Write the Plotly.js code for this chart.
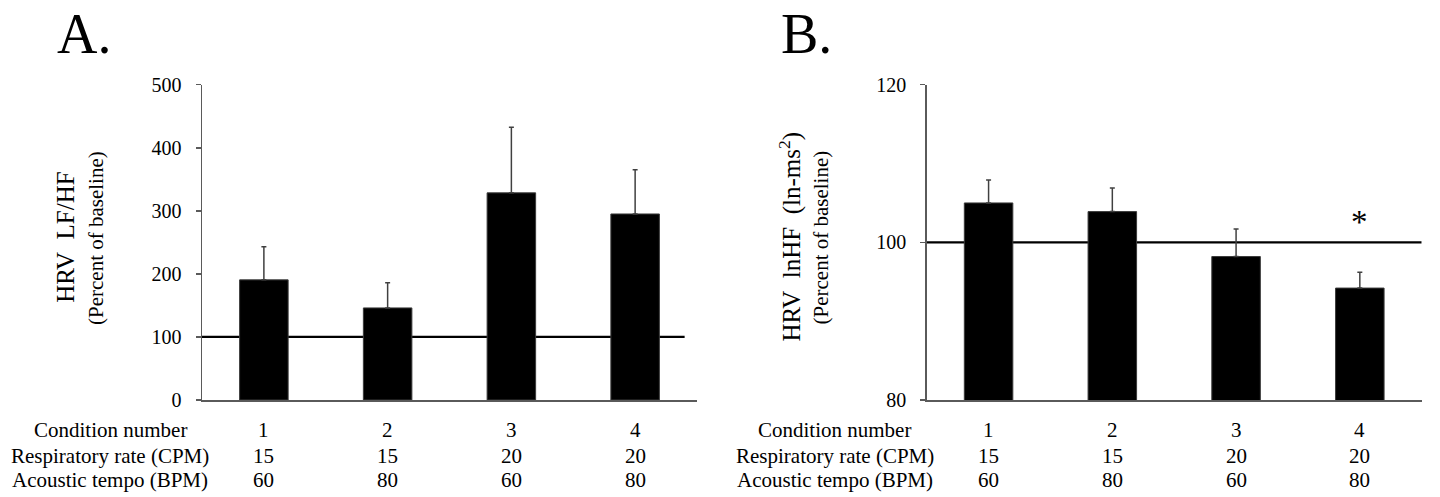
<!DOCTYPE html>
<html>
<head>
<meta charset="utf-8">
<script src="https://cdn.plot.ly/plotly-3.0.1.min.js"></script>
<style>html,body{margin:0;padding:0;background:#fff;}#chart{width:1440px;height:497px;}</style>
</head>
<body>
<div id="chart"></div>
<script>
// ---- data ----
var conditions = ['1', '2', '3', '4'];
var respiratoryRate = ['15', '15', '20', '20'];
var acousticTempo = ['60', '80', '60', '80'];
var rowLabels = ['Condition number', 'Respiratory rate (CPM)', 'Acoustic tempo (BPM)'];

var lfhfMean = [190.5, 146, 328.5, 295];
var lfhfUpper = [243, 186, 432.5, 365];

var lnhfMean = [105.0, 103.9, 98.2, 94.2];
var lnhfUpper = [107.9, 106.9, 101.7, 96.2];

var baselineA = 100;
var baselineB = 100;
var significant = [false, false, false, true];

var panelLabels = ['A.', 'B.'];
var yTitleA = ['HRV\u00a0\u00a0LF/HF', '(Percent of baseline)'];
var yTitleB = ['HRV\u00a0\u00a0lnHF\u00a0\u00a0(ln-ms<sup>2</sup>)', '(Percent of baseline)'];

// ---- helpers ----
var W = 1440, H = 497;
function px(x) { return x / W; }
function py(y) { return 1 - y / H; }
var FONT = 'Liberation Serif, Times New Roman, serif';

function diff(a, b) { return a.map(function (v, i) { return v - b[i]; }); }
var xIdx = conditions.map(function (c, i) { return i; });

var barStyle = {color: '#000', line: {color: '#3a3a3a', width: 1}};
var errStyle = {color: '#404040', thickness: 1.5, width: 2.5};

var traceA = {
  type: 'bar', x: xIdx, y: lfhfMean, xaxis: 'x', yaxis: 'y',
  width: 0.392, marker: barStyle, hoverinfo: 'skip',
  error_y: Object.assign({type: 'data', symmetric: false, array: diff(lfhfUpper, lfhfMean),
    arrayminus: lfhfMean.map(function () { return 0; })}, errStyle)
};
var traceB = {
  type: 'bar', x: xIdx, y: lnhfMean, xaxis: 'x2', yaxis: 'y2',
  width: 0.392, marker: barStyle, hoverinfo: 'skip',
  error_y: Object.assign({type: 'data', symmetric: false, array: diff(lnhfUpper, lnhfMean),
    arrayminus: lnhfMean.map(function () { return 0; })}, errStyle)
};

var xBase = {
  range: [-0.5, 3.5], showgrid: false, zeroline: false, showticklabels: false,
  ticks: '', showline: true, linecolor: '#5a5a5a', linewidth: 1.5, fixedrange: true
};
var yBase = {
  showgrid: false, zeroline: false, showline: true, linecolor: '#5a5a5a', linewidth: 1.5,
  ticks: 'outside', ticklen: 5, tickwidth: 1.5, tickcolor: '#5a5a5a',
  tickfont: {family: FONT, size: 20, color: '#000'}, ticklabelstandoff: 10, fixedrange: true
};

var annotations = [];
// panel letters
annotations.push({xref: 'paper', yref: 'paper', x: px(55), y: py(1), xanchor: 'left', yanchor: 'top',
  text: panelLabels[0], showarrow: false, font: {family: FONT, size: 56, color: '#000'}});
annotations.push({xref: 'paper', yref: 'paper', x: px(779), y: py(1), xanchor: 'left', yanchor: 'top',
  text: panelLabels[1], showarrow: false, font: {family: FONT, size: 56, color: '#000'}});

// y titles
function yTitle(lines, x1, x2) {
  annotations.push({xref: 'paper', yref: 'paper', x: px(x1), y: py(237), xanchor: 'center', yanchor: 'middle',
    textangle: -90, text: lines[0], showarrow: false, font: {family: FONT, size: 25, color: '#000'}});
  annotations.push({xref: 'paper', yref: 'paper', x: px(x2), y: py(238), xanchor: 'center', yanchor: 'middle',
    textangle: -90, text: lines[1], showarrow: false, font: {family: FONT, size: 21, color: '#000'}});
}
yTitle(yTitleA, 64.7, 96);
yTitle(yTitleB, 789.5, 820.5);

// table under each panel
var rowY = [430, 456, 480];
var rows = [conditions, respiratoryRate, acousticTempo];
function table(xref, labelX) {
  rowLabels.forEach(function (lab, r) {
    annotations.push({xref: 'paper', yref: 'paper', x: px(labelX), y: py(rowY[r]), xanchor: 'center', yanchor: 'middle',
      text: lab, showarrow: false, font: {family: FONT, size: 21, color: '#000'}});
    rows[r].forEach(function (v, i) {
      annotations.push({xref: xref, yref: 'paper', x: xIdx[i], y: py(rowY[r]), xanchor: 'center', yanchor: 'middle',
        text: v, showarrow: false, font: {family: FONT, size: 21, color: '#000'}});
    });
  });
}
table('x', 110);
table('x2', 834.7);

// significance marker
significant.forEach(function (s, i) {
  if (s) {
    annotations.push({xref: 'x2', yref: 'y2', x: xIdx[i], y: lnhfUpper[i] + 6.4, xanchor: 'center', yanchor: 'middle',
      text: '*', showarrow: false, font: {family: FONT, size: 33, color: '#000'}});
  }
});

var layout = {
  width: W, height: H,
  margin: {l: 0, r: 0, t: 0, b: 0},
  paper_bgcolor: '#fff', plot_bgcolor: 'rgba(0,0,0,0)',
  showlegend: false, bargap: 0,
  xaxis: Object.assign({}, xBase, {domain: [px(202), px(697)], anchor: 'y'}),
  yaxis: Object.assign({}, yBase, {domain: [py(400), py(84.7)], range: [0, 500], dtick: 100, tick0: 0, anchor: 'x'}),
  xaxis2: Object.assign({}, xBase, {domain: [px(926.7), px(1421.7)], anchor: 'y2'}),
  yaxis2: Object.assign({}, yBase, {domain: [py(400), py(84.7)], range: [80, 120], dtick: 20, tick0: 80, anchor: 'x2'}),
  shapes: [
    {type: 'line', xref: 'x', yref: 'y', x0: -0.5, x1: 3.4, y0: baselineA, y1: baselineA,
      line: {color: '#000', width: 2.3}, layer: 'below'},
    {type: 'line', xref: 'x2', yref: 'y2', x0: -0.5, x1: 3.5, y0: baselineB, y1: baselineB,
      line: {color: '#000', width: 2.3}, layer: 'below'}
  ],
  annotations: annotations
};

Plotly.newPlot('chart', [traceA, traceB], layout, {staticPlot: true, displayModeBar: false});
</script>
</body>
</html>
